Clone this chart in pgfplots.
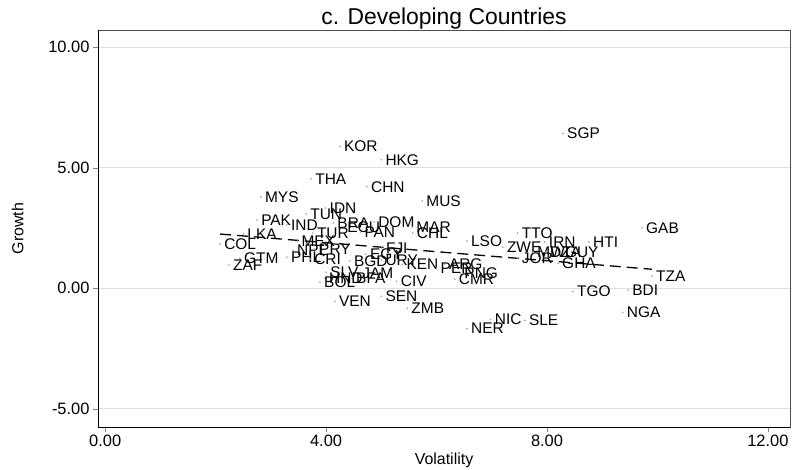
\documentclass[border=0pt]{standalone}
\usepackage{pgfplots}
\pgfplotsset{compat=1.18}
\usepackage{pgfplotstable}
\usepackage{fontspec}
\setmainfont{Liberation Sans}
\pgfplotstableread{
x y lab
8.29 6.42 SGP
4.25 5.88 KOR
5.00 5.33 HKG
3.73 4.54 THA
4.74 4.21 CHN
2.82 3.79 MYS
5.74 3.63 MUS
3.99 3.33 IDN
3.64 3.08 TUN
2.75 2.83 PAK
3.29 2.63 IND
4.13 2.71 BRA
4.31 2.54 ECU
4.87 2.75 DOM
3.76 2.29 TUR
4.62 2.33 PAN
5.56 2.54 MAR
5.57 2.29 CHL
2.50 2.25 LKA
2.08 1.83 COL
3.48 1.96 MEX
3.40 1.58 NPL
3.80 1.63 PRY
2.44 1.25 GTM
2.24 0.96 ZAF
3.29 1.29 PHL
3.71 1.21 CRI
4.43 1.13 BGD
5.01 1.67 FJI
4.72 1.42 EGY
5.00 1.17 URY
5.38 1.00 KEN
4.00 0.67 SLV
4.58 0.63 JAM
4.47 0.42 BFA
3.98 0.42 HND
3.89 0.25 BOL
5.28 0.29 CIV
4.16 -0.54 VEN
5.00 -0.33 SEN
5.47 -0.83 ZMB
6.55 -1.67 NER
6.98 -1.29 NIC
7.60 -1.33 SLE
8.47 -0.13 TGO
9.47 -0.08 BDI
9.37 -1.00 NGA
9.90 0.50 TZA
8.20 1.04 GHA
7.47 1.25 JOR
7.20 1.71 ZWE
7.75 1.50 MWI
7.98 1.50 DZA
8.25 1.50 GUY
6.55 1.96 LSO
7.47 2.29 TTO
7.96 1.92 IRN
8.76 1.92 HTI
9.72 2.50 GAB
6.15 1.00 ARG
6.00 0.83 PER
6.43 0.63 PNG
6.33 0.38 CMR
}\devdata
\begin{document}
\begin{tikzpicture}
\useasboundingbox (-98bp,-43bp) rectangle (700bp,427bp);
\begin{axis}[
  at={(0,0)}, anchor=south west,
  scale only axis, width=692bp, height=397bp,
  xmin=-0.13, xmax=12.4, ymin=-5.75, ymax=10.71,
  xtick={0,4,8,12}, ytick={-5,0,5,10},
  /pgf/number format/assume math mode=true,
  /pgf/number format/.cd, fixed, fixed zerofill, precision=2, /pgfplots/.cd,
  tick label style={font=\fontsize{16.5}{16.5}\selectfont},
  tick align=outside, major tick length=5bp,
  xtick pos=bottom, ytick pos=left,
  ymajorgrids, grid style={gray!25, line width=1bp},
  axis line style={draw=gray!60!black, line width=0.8bp},
  xlabel={Volatility}, ylabel={Growth},
  label style={font=\fontsize{16}{16}\selectfont},
  xlabel style={yshift=1bp},
  ylabel style={yshift=18bp},
  title={c. Developing Countries},
  title style={font=\fontsize{23}{23}\selectfont, yshift=-9bp},
  clip=false,
]
\addplot[only marks, mark=*, mark size=0.6bp, draw=gray!70, fill=gray!70,
  point meta=explicit symbolic,
  nodes near coords,
  every node near coord/.append style={anchor=west, xshift=3bp, inner sep=1bp,
    font=\fontsize{15.5}{15.5}\selectfont, text=black}]
  table[x=x, y=y, meta=lab] {\devdata};
\addplot[black, line width=1.3bp, dash pattern=on 11bp off 6bp] coordinates {(2.08,2.25) (9.90,0.79)};
\draw[black, line width=0.8bp] (rel axis cs:0,1) -- (rel axis cs:0,0) -- (rel axis cs:1,0);
\end{axis}
\end{tikzpicture}
\end{document}
